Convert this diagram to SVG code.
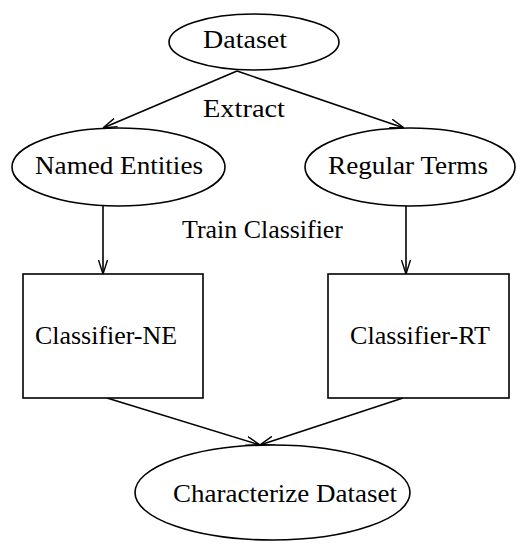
<svg xmlns="http://www.w3.org/2000/svg" width="517" height="543" viewBox="0 0 517 543">
<style>
.n{fill:#fff;stroke:#000;stroke-width:1.6}
.t{font-family:"Liberation Serif","Times New Roman",serif;font-size:25px;fill:#000}
.e{fill:none;stroke:#000;stroke-width:1.6}
</style>
<defs>
<marker id="a" viewBox="0 0 14 10" refX="14" refY="5" markerWidth="14" markerHeight="10" markerUnits="userSpaceOnUse" orient="auto">
<path d="M0,0.5 L14,5 L0,9.5" fill="none" stroke="#000" stroke-width="1.4"/>
</marker>
</defs>
<rect width="517" height="543" fill="#fff"/>
<g id="connectors">
<line class="e" x1="237" y1="71" x2="103" y2="128" marker-end="url(#a)"/>
<line class="e" x1="237" y1="71" x2="404" y2="128" marker-end="url(#a)"/>
<line class="e" x1="103" y1="206" x2="103" y2="274" marker-end="url(#a)"/>
<line class="e" x1="406" y1="206" x2="406" y2="274" marker-end="url(#a)"/>
<line class="e" x1="107" y1="398" x2="260" y2="445" marker-end="url(#a)"/>
<line class="e" x1="403" y1="398" x2="260" y2="445" marker-end="url(#a)"/>
</g>
<g id="dataset">
<ellipse class="n" cx="254" cy="42" rx="85" ry="28"/>
<text class="t" x="203" y="48" textLength="84" lengthAdjust="spacingAndGlyphs">Dataset</text>
</g>
<g id="label-extract">
<text class="t" x="203" y="117" textLength="82" lengthAdjust="spacingAndGlyphs">Extract</text>
</g>
<g id="named-entities">
<ellipse class="n" cx="118.5" cy="167" rx="106.5" ry="39"/>
<text class="t" x="35" y="174" textLength="168" lengthAdjust="spacingAndGlyphs">Named Entities</text>
</g>
<g id="regular-terms">
<ellipse class="n" cx="410" cy="167" rx="105" ry="39"/>
<text class="t" x="328" y="174" textLength="160" lengthAdjust="spacingAndGlyphs">Regular Terms</text>
</g>
<g id="label-train">
<text class="t" x="182" y="238" textLength="161" lengthAdjust="spacingAndGlyphs">Train Classifier</text>
</g>
<g id="classifier-ne">
<rect class="n" x="23" y="274" width="180" height="124"/>
<text class="t" x="35" y="344" textLength="142" lengthAdjust="spacingAndGlyphs">Classifier-NE</text>
</g>
<g id="classifier-rt">
<rect class="n" x="328" y="274" width="181" height="124"/>
<text class="t" x="350" y="344" textLength="140" lengthAdjust="spacingAndGlyphs">Classifier-RT</text>
</g>
<g id="characterize">
<ellipse class="n" cx="272.5" cy="492.5" rx="137.5" ry="47.5"/>
<text class="t" x="173" y="502" textLength="224" lengthAdjust="spacingAndGlyphs">Characterize Dataset</text>
</g>
</svg>
